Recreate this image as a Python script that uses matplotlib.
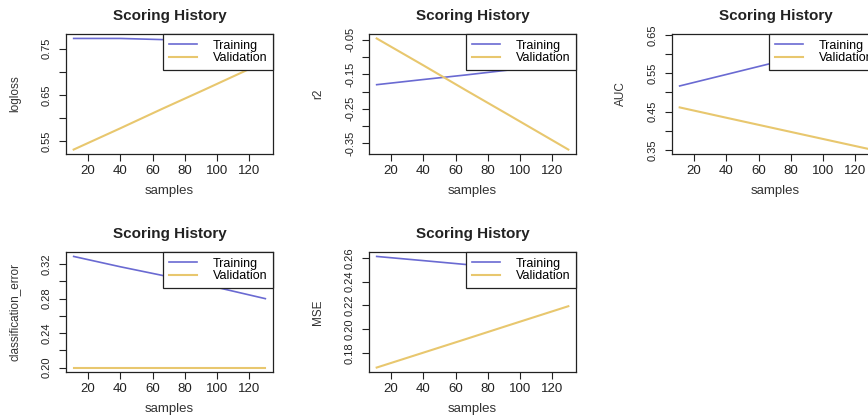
import matplotlib
matplotlib.use('Agg')
import matplotlib.pyplot as plt

plt.rcParams['font.family'] = ['Liberation Sans', 'DejaVu Sans']
plt.rcParams['axes.unicode_minus'] = False

# scoring history values
samples = [11, 40, 66, 92, 130]

logloss_train = [0.772, 0.772, 0.7695, 0.769, 0.768]
logloss_valid = [0.532, 0.578, 0.620, 0.661, 0.722]

r2_train = [-0.180, -0.165, -0.152, -0.138, -0.121]
r2_valid = [-0.046, -0.124, -0.195, -0.265, -0.368]

auc_train = [0.517, 0.547, 0.574, 0.601, 0.641]
auc_valid = [0.461, 0.434, 0.410, 0.386, 0.351]

ce_train = [0.329, 0.317, 0.307, 0.2965, 0.280]
ce_valid = [0.200, 0.200, 0.200, 0.200, 0.200]

mse_train = [0.2611, 0.2576, 0.2544, 0.2513, 0.2466]
mse_valid = [0.168, 0.1805, 0.1917, 0.2030, 0.2194]

x_ticks = [20, 40, 60, 80, 100, 120]

TRAIN_COLOR = '#6a6ad2'
VALID_COLOR = '#e8c76e'

W, H = 868, 416
fig = plt.figure(figsize=(W / 100, H / 100), dpi=100, facecolor='white')


def make_axes(left, top, width=207, height=120):
    # pixel box -> figure fraction (the 3rd column runs past the right edge)
    return fig.add_axes([left / W, 1 - (top + height) / H, width / W, height / H])


def panel(ax, ylabel, train, valid, yticks, ylabels):
    ax.plot(samples, train, color=TRAIN_COLOR, lw=1.2, label='Training')
    ax.plot(samples, valid, color=VALID_COLOR, lw=1.5, label='Validation')
    ax.margins(x=0.04, y=0.04)
    ax.set_xticks(x_ticks)
    ax.set_yticks(yticks)
    ax.set_yticklabels(ylabels, rotation=90, va='center', fontsize=8)
    ax.tick_params(direction='out', length=5, width=0.8, colors='#222222')
    ax.tick_params(axis='x', labelsize=9.5, pad=3)
    ax.tick_params(axis='y', pad=5)
    for s in ax.spines.values():
        s.set_color('#222222')
        s.set_linewidth(0.9)
    ax.set_title('Scoring History', fontsize=11, fontweight='bold', pad=10, color='#222222')
    ax.set_xlabel('samples', fontsize=9.5, labelpad=6, color='#333333')
    ax.set_ylabel(ylabel, fontsize=8.5, color='#333333')
    ax.yaxis.set_label_coords(-45 / 207, 0.5)
    leg = ax.legend(loc='upper right', borderaxespad=0, fontsize=9,
                    fancybox=False, framealpha=1, handlelength=2.2,
                    handletextpad=1.3, borderpad=0.45, labelspacing=0.05)
    leg.get_frame().set_edgecolor('#222222')
    leg.get_frame().set_linewidth(0.9)


def labs(ticks, every):
    return [f'{t:.2f}' if i % every == 0 else '' for i, t in enumerate(ticks)]


t1 = [0.55, 0.60, 0.65, 0.70, 0.75]
panel(make_axes(66, 34), 'logloss', logloss_train, logloss_valid, t1, labs(t1, 2))

t2 = [-0.35, -0.30, -0.25, -0.20, -0.15, -0.10, -0.05]
panel(make_axes(369, 34), 'r2', r2_train, r2_valid, t2, labs(t2, 2))

t3 = [0.35, 0.40, 0.45, 0.50, 0.55, 0.60, 0.65]
panel(make_axes(672, 34), 'AUC', auc_train, auc_valid, t3, labs(t3, 2))

t4 = [0.20, 0.22, 0.24, 0.26, 0.28, 0.30, 0.32]
panel(make_axes(66, 252), 'classification_error', ce_train, ce_valid, t4, labs(t4, 2))

t5 = [0.18, 0.20, 0.22, 0.24, 0.26]
panel(make_axes(369, 252), 'MSE', mse_train, mse_valid, t5, labs(t5, 1))

fig.savefig('out.png', dpi=100, facecolor='white')
